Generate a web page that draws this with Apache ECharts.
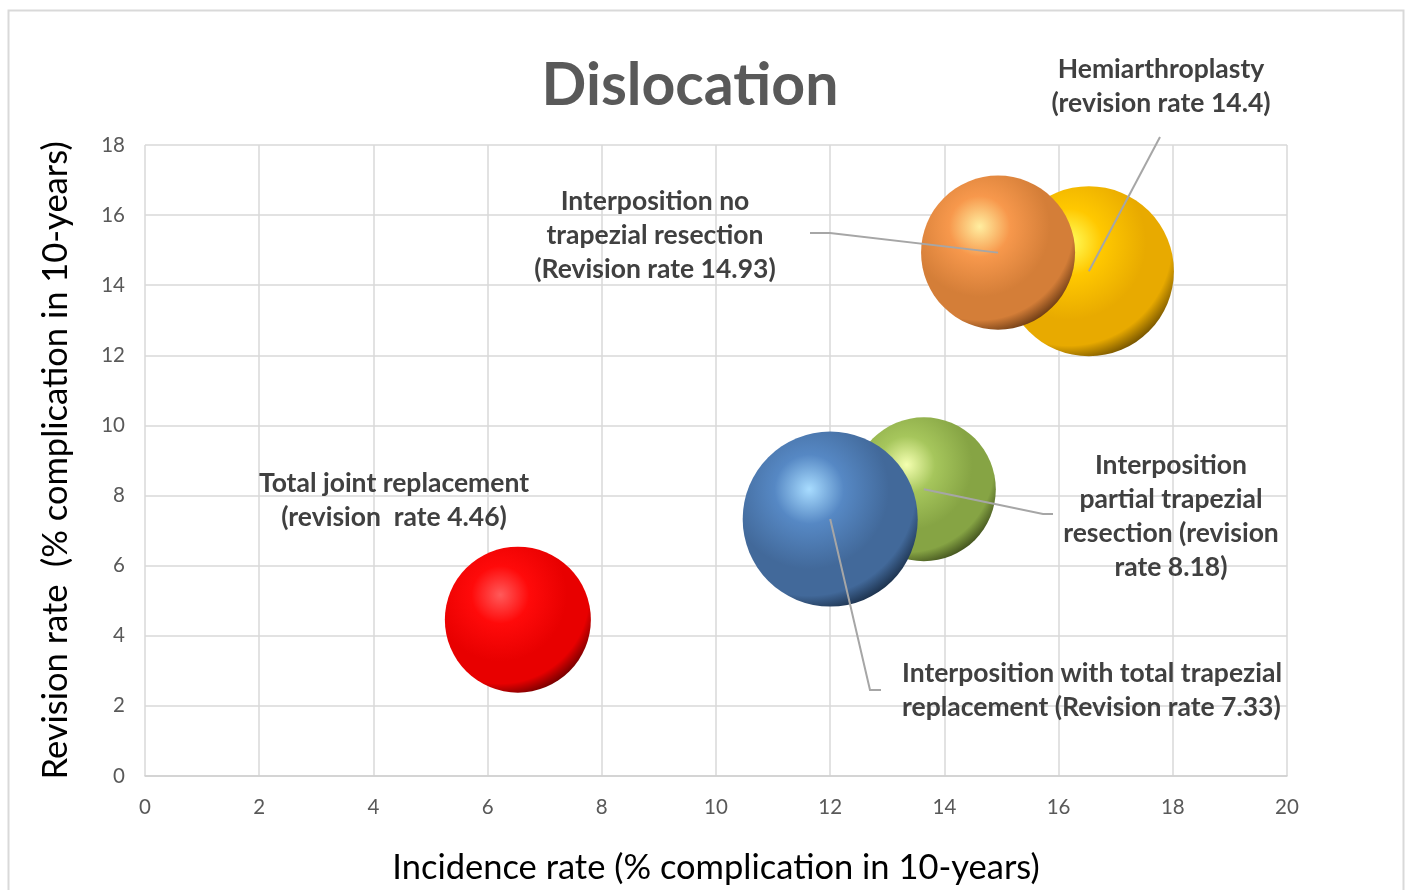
<!DOCTYPE html>
<html>
<head>
<meta charset="utf-8">
<script src="https://cdn.jsdelivr.net/npm/echarts@6/dist/echarts.min.js"></script>
<style>
html,body{margin:0;padding:0;background:#fff;}
#main{width:1408px;height:890px;}
</style>
</head>
<body>
<div id="main"></div>
<script>
// ---- data ----
const categories = [
  'Total joint replacement',
  'Interposition partial trapezial resection',
  'Interposition with total trapezial replacement',
  'Hemiarthroplasty',
  'Interposition no trapezial resection'
];
const incidenceRate = [6.53, 13.64, 12.0, 16.53, 14.94];
const revisionRate = [4.46, 8.18, 7.33, 14.4, 14.93];
const bubbleSize = [5.33, 5.18, 7.66, 7.23, 5.93];
const xTicks = [0, 2, 4, 6, 8, 10, 12, 14, 16, 18, 20];
const yTicks = [0, 2, 4, 6, 8, 10, 12, 14, 16, 18];
const labelTexts = [
  'Total joint replacement\n(revision  rate 4.46)',
  'Interposition\npartial trapezial\nresection (revision\nrate 8.18)',
  'Interposition with total trapezial\nreplacement (Revision rate 7.33)',
  'Hemiarthroplasty\n(revision rate 14.4)',
  'Interposition no\ntrapezial resection\n(Revision rate 14.93)'
];

// ---- styles ----
const palette = [
  ['#ff5a5a', '#ff0a0a', '#e80000', '#3a0000'],
  ['#f4ffb0', '#a6c65c', '#86a444', '#222c0c'],
  ['#a8dcff', '#5688c4', '#42699a', '#0a1626'],
  ['#ffff60', '#ffc800', '#e8aa00', '#3e2a00'],
  ['#ffeea0', '#f7984c', '#d47e38', '#3c1c04']
];
function sphere(c) {
  return {
    type: 'radial', x: 0.38, y: 0.33, r: 0.76,
    colorStops: [
      { offset: 0, color: c[0] },
      { offset: 0.26, color: c[1] },
      { offset: 0.6, color: c[2] },
      { offset: 0.8, color: c[2] },
      { offset: 1, color: c[3] }
    ]
  };
}
const FONT = 'Lato';
const labelStyle = { fontFamily: FONT, fontWeight: 'bold', fontSize: 26.5, fill: '#404040', lineHeight: 34 };

const series = categories.map((name, i) => ({
  name: name,
  type: 'scatter',
  z: 2 + i,
  symbolSize: d => 2 * Math.sqrt(d[2] * 1000),
  itemStyle: { color: sphere(palette[i]), opacity: 1 },
  emphasis: { disabled: true },
  data: [[incidenceRate[i], revisionRate[i], bubbleSize[i]]]
}));

const chart = echarts.init(document.getElementById('main'), null, { renderer: 'canvas' });
const option = {
  animation: false,
  backgroundColor: '#fff',
  title: {
    text: 'Dislocation', left: 685, top: 51, textAlign: 'center',
    textStyle: { fontFamily: FONT, fontWeight: 'bold', fontSize: 59, color: '#595959' }
  },
  grid: { left: 145, right: 121, top: 145, bottom: 113 },
  xAxis: {
    type: 'value', min: 0, max: 20, interval: 2,
    name: 'Incidence rate (% complication in 10-years)',
    nameLocation: 'middle', nameGap: 74,
    nameTextStyle: { fontFamily: FONT, fontSize: 34.5, color: '#000' },
    axisLine: { show: true, lineStyle: { color: '#cfcfcf', width: 1.5 } },
    axisTick: { show: false },
    axisLabel: { fontFamily: FONT, fontSize: 20.5, color: '#595959', margin: 21,
      formatter: v => xTicks.includes(v) ? String(v) : '' },
    splitLine: { show: true, lineStyle: { color: '#d9d9d9', width: 1.5 } }
  },
  yAxis: {
    type: 'value', min: 0, max: 18, interval: 2,
    name: 'Revision rate  (% complication in 10-years)',
    nameLocation: 'middle', nameGap: 72,
    nameTextStyle: { fontFamily: FONT, fontSize: 34.5, color: '#000' },
    axisLine: { show: false },
    axisTick: { show: false },
    axisLabel: { fontFamily: FONT, fontSize: 20.5, color: '#595959', margin: 20,
      formatter: v => yTicks.includes(v) ? String(v) : '' },
    splitLine: { show: true, lineStyle: { color: '#d9d9d9', width: 1.5 } }
  },
  series: series
};
chart.setOption(option);

// ---- annotations (label text + leader lines to bubble centres) ----
const centers = categories.map((_, i) => chart.convertToPixel({ seriesIndex: i }, [incidenceRate[i], revisionRate[i]]));
const labelPos = [
  { x: 394, y: 466, align: 'center' },
  { x: 1171, y: 448, align: 'center' },
  { x: 902, y: 656, align: 'left' },
  { x: 1161, y: 52, align: 'center' },
  { x: 655, y: 184, align: 'center' }
];
const leaders = [
  null,
  [[1053, 514], [1043, 514]],
  [[881, 690], [870, 690]],
  [[1160, 137]],
  [[810, 233], [830, 233]]
];
const graphics = [
  { type: 'rect', left: 6, top: 8, shape: { width: 1395, height: 900 }, silent: true,
    style: { fill: 'none', stroke: '#d9d9d9', lineWidth: 2 }, z: -1 }
];
labelTexts.forEach((t, i) => {
  graphics.push({
    type: 'text', x: labelPos[i].x, y: labelPos[i].y, z: 100,
    style: Object.assign({ text: t, textAlign: labelPos[i].align, textVerticalAlign: 'top' }, labelStyle)
  });
  if (leaders[i]) {
    graphics.push({
      type: 'polyline', z: 90, silent: true,
      shape: { points: leaders[i].concat([centers[i]]) },
      style: { stroke: '#a6a6a6', lineWidth: 2, fill: 'none' }
    });
  }
});
chart.setOption({ graphic: graphics });
</script>
</body>
</html>
